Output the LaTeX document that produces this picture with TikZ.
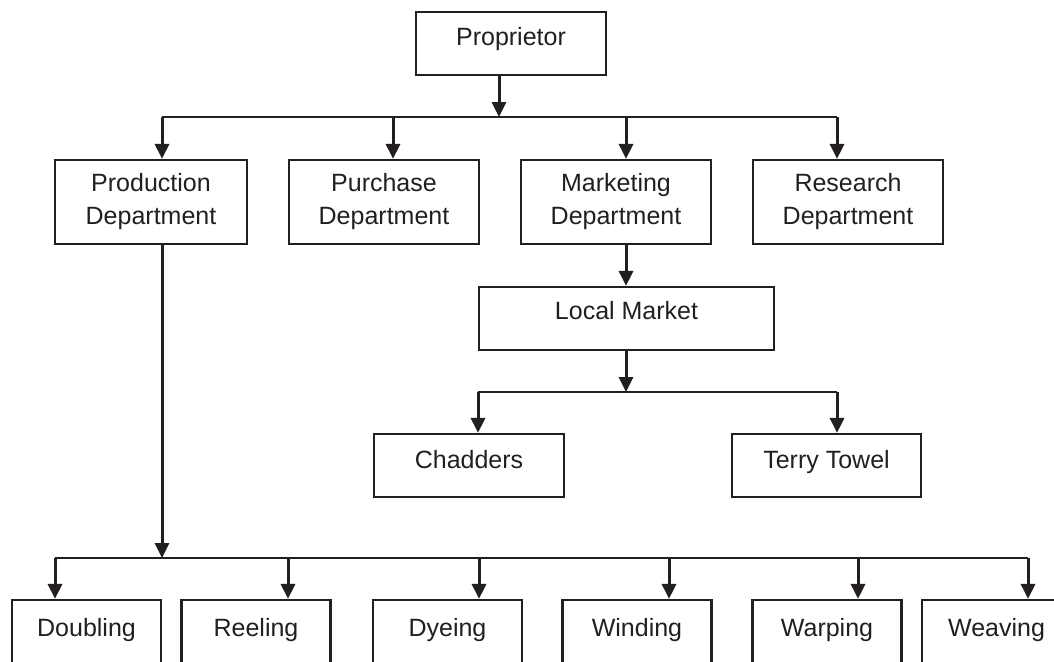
\documentclass[tikz,border=0pt]{standalone}
\usepackage{fontspec}
\setmainfont{Liberation Sans}
\usetikzlibrary{arrows.meta}
\definecolor{ink}{HTML}{231F20}
\begin{document}
\begin{tikzpicture}[x=1pt,y=-1pt,
  basebox/.style={draw=ink,line width=2.2pt,inner sep=0pt,align=center,
    font=\fontsize{25}{33}\selectfont,text=ink},
  box/.style={basebox,text height=17pt,text depth=5pt},
  arr/.style={draw=ink,line width=3pt,-{Triangle[length=15pt,width=14pt]}},
  bus/.style={draw=ink,line width=2.2pt}]
\clip (0,0) rectangle (1054,661);
\fill[white] (0,0) rectangle (1054,661);
% top
\node[box,minimum width=190pt,minimum height=63pt,text depth=13pt] (prop) at (511,43.5) {Proprietor};
\node[basebox,minimum width=192pt,minimum height=84pt] (prod) at (151,202) {Production\\Department};
\node[basebox,minimum width=190pt,minimum height=84pt] (purch) at (384,202) {Purchase\\Department};
\node[basebox,minimum width=190pt,minimum height=84pt] (mkt) at (616,202) {Marketing\\Department};
\node[basebox,minimum width=190pt,minimum height=84pt] (res) at (848,202) {Research\\Department};
\node[box,minimum width=295pt,minimum height=63pt,text depth=15pt] (local) at (626.5,318.5) {Local Market};
\node[box,minimum width=190pt,minimum height=63pt,text depth=11pt] (chad) at (469,465.5) {Chadders};
\node[box,minimum width=189pt,minimum height=63pt,text depth=11pt] (terry) at (826.5,465.5) {Terry Towel};
% bottom row
\foreach \n/\x/\t in {dbl/86.5/Doubling, reel/256/Reeling, dye/447.5/Dyeing, wind/637/Winding, warp/827/Warping, weave/996.5/Weaving}
  \node[box,minimum width=149pt,minimum height=80pt,text depth=24pt] (\n) at (\x,640) {\t};
% connectors: proprietor
\coordinate (b0) at (499,117);
\coordinate (tl) at (162,117);
\coordinate (tr) at (837,117);
\coordinate (tp) at (393,117);
\coordinate (tm) at (626,117);
\draw[bus] (tl) -- (tr);
\draw[arr] (prop.south -| b0) -- (b0);
\draw[arr] (tl) -- (prod.north -| tl);
\draw[arr] (tp) -- (purch.north -| tp);
\draw[arr] (tm) -- (mkt.north -| tm);
\draw[arr] (tr) -- (res.north -| tr);
% marketing
\draw[arr] (mkt.south -| tm) -- (local.north -| tm);
\coordinate (b2) at (626,392);
\coordinate (cl) at (478,392);
\coordinate (cr) at (837,392);
\draw[bus] (cl) -- (cr);
\draw[arr] (local.south -| b2) -- (b2);
\draw[arr] (cl) -- (chad.north -| cl);
\draw[arr] (cr) -- (terry.north -| cr);
% production
\coordinate (b3) at (162,558);
\coordinate (pl) at (55,558);
\coordinate (pr) at (1028,558);
\draw[bus] (pl) -- (pr);
\draw[arr] (prod.south -| b3) -- (b3);
\draw[arr] (pl) -- (dbl.north -| pl);
\draw[arr] (288,558) -- (reel.north -| 288,0);
\draw[arr] (479,558) -- (dye.north -| 479,0);
\draw[arr] (669,558) -- (wind.north -| 669,0);
\draw[arr] (858,558) -- (warp.north -| 858,0);
\draw[arr] (pr) -- (weave.north -| pr);
\end{tikzpicture}
\end{document}
